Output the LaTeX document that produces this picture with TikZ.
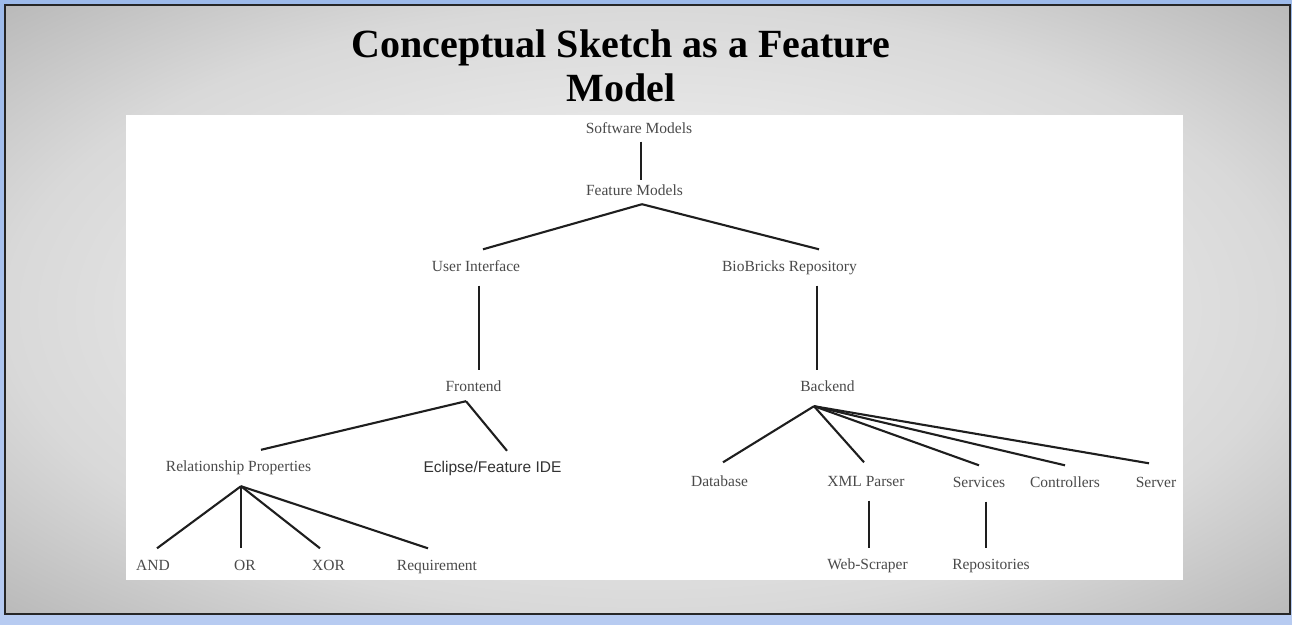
\documentclass[tikz,border=0pt]{standalone}
\usepackage{fontspec}
\setmainfont{Liberation Serif}
\newfontfamily\arialfont{Liberation Sans}
\definecolor{slideblue}{HTML}{9DBAEA}
\definecolor{slidebluelow}{HTML}{B7CBF1}
\definecolor{featgray}{HTML}{4A4A4A}
\definecolor{linkgray}{HTML}{1E1E1E}
\pgfdeclareradialshading{slidegray}{\pgfpoint{0bp}{0bp}}
  {rgb(0bp)=(0.94,0.94,0.94); rgb(12bp)=(0.92,0.92,0.92);
   rgb(25bp)=(0.85,0.85,0.85); rgb(36bp)=(0.72,0.72,0.72);
   rgb(50bp)=(0.72,0.72,0.72)}
\tikzset{
  feat/.style={font=\fontsize{15.5}{18}\selectfont, text=featgray,
    inner xsep=0pt, inner ysep=11pt, text height=10.5pt, text depth=3.5pt},
  featsm/.style={feat, inner ysep=5pt},
  link/.style={draw=linkgray, line width=2.1pt},
}
\newcommand*{\branch}[2]{\draw[link] (#1) -- (#2)}

\begin{document}
\begin{tikzpicture}[x=1pt,y=-1pt]
\useasboundingbox (0,0) rectangle (1292,624);

% Slide background
\shade[top color=slideblue, bottom color=slidebluelow] (0,0) rectangle (1292,624);
\shade[shading=slidegray] (5,5) rectangle (1290,614);
\draw[line width=2pt, black!85] (5,5) rectangle (1290,614);
\fill[white] (126,115) rectangle (1183,580);

% Title
\node[font=\fontsize{40}{44}\selectfont\bfseries, align=center, inner sep=0pt]
  (title) at (621,66) {Conceptual Sketch as a Feature\\Model};

% Top of the tree
\node[featsm] (sm) at (639,129.5) {Software Models};
\node[featsm] (fm) at (634.5,192) {Feature Models};
\node[feat] (ui) at (476,267.5) {User Interface};
\node[feat] (bb) at (789.5,267.5) {BioBricks Repository};
\node[feat] (fe) at (473.5,388) {Frontend};
\node[feat] (be) at (827.5,388) {Backend};

% Frontend side
\node[feat] (rp) at (238.5,468) {Relationship Properties};
\node[feat, font=\arialfont\fontsize{15.5}{18}\selectfont, text=black!80]
  (ec) at (492.5,469) {Eclipse/Feature IDE};
\node[feat] (and) at (153,566.5) {AND};
\node[feat] (or) at (245,566.5) {OR};
\node[feat] (xor) at (328.5,566.5) {XOR};
\node[feat] (req) at (437,566.5) {Requirement};

% Backend side
\node[feat] (db) at (719.5,482.5) {Database};
\node[feat] (xml) at (866,482.5) {XML Parser};
\node[feat] (svc) at (979,483.5) {Services};
\node[feat] (ctl) at (1065,483.5) {Controllers};
\node[feat] (srv) at (1156,483.5) {Server};
\node[feat] (web) at (867.5,566) {Web-Scraper};
\node[feat] (rep) at (991,566) {Repositories};

% Connectors
\branch{[xshift=2pt]sm.south}{[xshift=6.5pt]fm.north};
\branch{[xshift=7.5pt]fm.south}{[xshift=7pt]ui.north};
\branch{[xshift=7.5pt]fm.south}{[xshift=29.5pt]bb.north};
\branch{[xshift=3pt]ui.south}{[xshift=5.5pt]fe.north};
\branch{[xshift=27.5pt]bb.south}{[xshift=-10.5pt]be.north};

\branch{[xshift=-7.5pt,yshift=5pt]fe.south}{[xshift=22.5pt]rp.north};
\branch{[xshift=-7.5pt,yshift=5pt]fe.south}{[xshift=14.5pt]ec.north};
\branch{[xshift=2.5pt]rp.south}{[xshift=4pt]and.north};
\branch{[xshift=2.5pt]rp.south}{[xshift=-4pt]or.north};
\branch{[xshift=2.5pt]rp.south}{[xshift=-8.5pt]xor.north};
\branch{[xshift=2.5pt]rp.south}{[xshift=-9pt]req.north};

\branch{[xshift=-13.5pt]be.south}{[xshift=3.5pt,yshift=2pt]db.north};
\branch{[xshift=-13.5pt]be.south}{[xshift=-2pt,yshift=2pt]xml.north};
\branch{[xshift=-13.5pt]be.south}{svc.north};
\branch{[xshift=-13.5pt]be.south}{ctl.north};
\branch{[xshift=-13.5pt]be.south}{[xshift=-7pt,yshift=2pt]srv.north};
\branch{[xshift=3pt]xml.south}{[xshift=1.5pt]web.north};
\branch{[xshift=7pt]svc.south}{[xshift=-5pt]rep.north};
\end{tikzpicture}
\end{document}
